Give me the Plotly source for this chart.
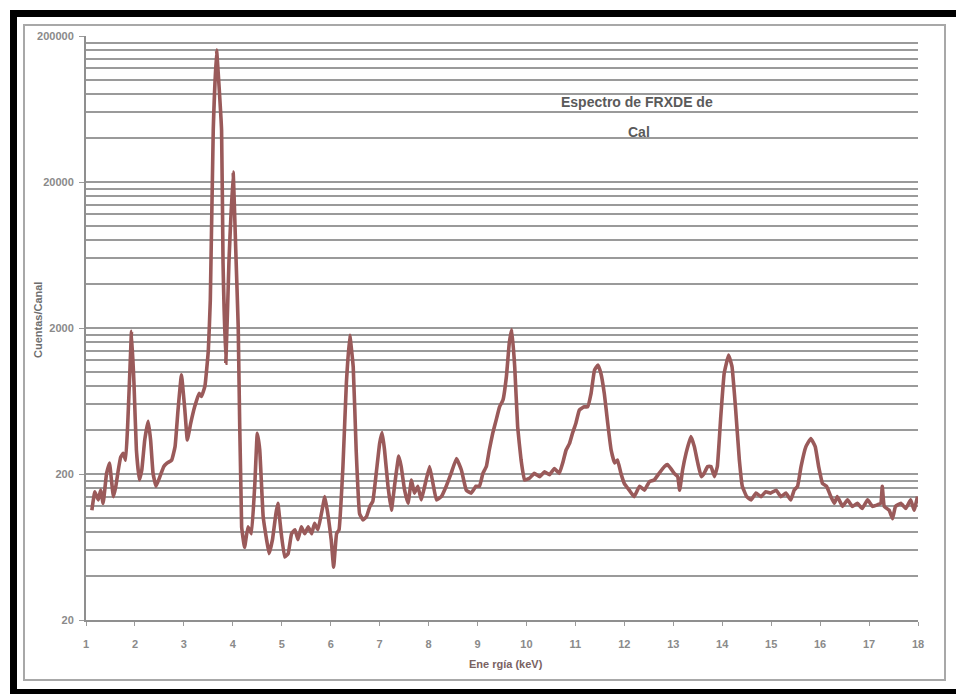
import plotly.graph_objects as go

# XRF energy-dispersive spectrum of lime (Cal): energy (keV) vs counts per channel
energia_kev = [
    1.12, 1.18, 1.25, 1.30, 1.35, 1.42, 1.48, 1.52, 1.56, 1.61, 1.66, 1.71, 1.76, 1.81,
    1.85, 1.90, 1.93, 1.98, 2.03, 2.09, 2.14, 2.20, 2.27, 2.32, 2.37, 2.43, 2.51, 2.59,
    2.66, 2.75, 2.82, 2.88, 2.95, 3.02, 3.07, 3.14, 3.22, 3.31, 3.36, 3.43, 3.50, 3.54,
    3.60, 3.667, 3.77, 3.80, 3.857, 3.92, 4.006, 4.06, 4.11,
    4.18, 4.24, 4.31, 4.38, 4.45, 4.50, 4.55, 4.62, 4.69, 4.74, 4.81, 4.88, 4.92, 4.99,
    5.06, 5.13, 5.20, 5.27, 5.33, 5.40, 5.47, 5.54, 5.61, 5.67, 5.74, 5.81, 5.88, 5.95,
    6.01, 6.06, 6.12, 6.17, 6.25, 6.32, 6.39, 6.46, 6.52, 6.59, 6.66, 6.73, 6.80, 6.86,
    6.93, 7.00, 7.05, 7.10, 7.17, 7.24, 7.31, 7.39, 7.44, 7.51, 7.58, 7.65, 7.71, 7.78,
    7.85, 7.92, 8.02, 8.09, 8.16, 8.26, 8.36, 8.46, 8.57, 8.67, 8.77, 8.87, 8.97,
    9.04, 9.11, 9.18, 9.24, 9.31, 9.38, 9.45, 9.52, 9.59, 9.65, 9.70, 9.76, 9.82, 9.89,
    9.96, 10.06, 10.16, 10.27, 10.37, 10.47, 10.57, 10.67, 10.74, 10.81, 10.88, 10.94,
    11.01, 11.08, 11.18, 11.25, 11.32, 11.39, 11.46, 11.52, 11.59, 11.66, 11.73, 11.80,
    11.86, 11.93, 12.00, 12.10, 12.20, 12.31, 12.41, 12.51, 12.61, 12.71, 12.82, 12.88,
    12.95, 13.02, 13.09, 13.13, 13.19, 13.26, 13.36, 13.43, 13.50, 13.57, 13.63, 13.70,
    13.77, 13.84, 13.90, 13.97, 14.04, 14.13, 14.20, 14.27, 14.35, 14.41, 14.50, 14.59,
    14.69, 14.79, 14.89, 14.99, 15.10, 15.20, 15.30, 15.40, 15.47, 15.54, 15.61, 15.71,
    15.81, 15.90, 15.97, 16.05, 16.13, 16.22, 16.29, 16.35, 16.46, 16.56, 16.66, 16.76,
    16.86, 16.97, 17.07, 17.17, 17.24, 17.27, 17.31, 17.41, 17.48, 17.54, 17.65, 17.75,
    17.85, 17.92, 17.99,
]

cuentas_canal = [
    113, 151, 133, 155, 126, 202, 238, 182, 140, 165, 213, 262, 277, 249,
    421, 1085, 1900, 838, 292, 182, 213, 342, 460, 342, 202, 165, 192, 225,
    238, 249, 308, 548, 955, 548, 342, 446, 577, 713, 680, 800, 1412, 3105,
    45400, 160000, 45400, 5570, 1150, 5570, 23400, 6840, 2040,
    87, 63, 87, 78, 172, 380, 292, 102, 71, 57, 71, 107, 126, 78,
    54, 57, 78, 83, 71, 87, 78, 87, 78, 92, 83, 107, 140, 102,
    71, 46, 78, 83, 225, 838, 1780, 1085, 292, 107, 97, 102, 120, 130,
    202, 324, 384, 292, 165, 113, 172, 265, 225, 155, 126, 182, 148, 165,
    133, 165, 225, 172, 133, 140, 165, 202, 255, 213, 155, 148, 165,
    165, 202, 225, 292, 380, 468, 577, 642, 930, 1590, 1950, 1085, 421, 249,
    182, 187, 202, 192, 207, 198, 218, 202, 238, 292, 324, 380,
    446, 548, 577, 577, 713, 1030, 1116, 980, 713, 446, 292, 238,
    249, 202, 172, 155, 140, 165, 155, 177, 182, 202, 225, 232,
    218, 202, 192, 155, 213, 277, 361, 308, 238, 192, 202, 225,
    225, 192, 225, 494, 980, 1305, 1085, 577, 249, 165, 140, 133,
    148, 140, 151, 148, 155, 140, 148, 133, 155, 165, 225, 308,
    350, 308, 225, 172, 165, 140, 126, 140, 120, 133, 120, 126,
    116, 133, 120, 123, 126, 165, 120, 113, 99, 120, 126, 116,
    133, 113, 140,
]

y_ticks = [20, 200, 2000, 20000, 200000]
y_tick_text = ["20", "200", "2000", "20000", "200000"]
x_ticks = list(range(1, 19))

# intermediate log gridlines: 2..9 x each decade start (20, 200, ...)
minor_grid = [d * m for d in (20, 200, 2000, 20000) for m in range(2, 10)]

line_color = "#9a5a5a"
grid_color = "#9a9a9a"
tick_font = dict(family="Liberation Sans", size=11, color="#8a8a8a", weight="bold")

fig = go.Figure()
fig.add_trace(go.Scatter(
    x=energia_kev, y=cuentas_canal, mode="lines",
    line=dict(color=line_color, width=3.6, shape="spline", smoothing=0.3),
    showlegend=False, hoverinfo="x+y",
))

fig.update_xaxes(
    range=[1, 18], tickvals=x_ticks, ticktext=[str(v) for v in x_ticks],
    showgrid=False, zeroline=False,
    showline=True, linecolor="#8f8f8f", linewidth=2,
    ticks="outside", ticklen=4, tickwidth=1, tickcolor="#9a9a9a",
    tickfont=tick_font, ticklabelstandoff=9,
)
fig.update_yaxes(
    type="log", range=[1.30103, 5.30103],
    tickvals=y_ticks, ticktext=y_tick_text,
    showgrid=True, gridcolor=grid_color, gridwidth=2,
    minor=dict(tickvals=minor_grid, showgrid=True, gridcolor=grid_color, gridwidth=2, ticks=""),
    zeroline=False, showline=True, linecolor="#8f8f8f", linewidth=2,
    ticks="outside", ticklen=5, tickwidth=1, tickcolor="#9a9a9a",
    tickfont=tick_font, ticklabelstandoff=3,
)

# Frame: pixel geometry converted to paper coordinates of the plotting area
L, R, T, B = 86, 918, 36, 620
W, H = R - L, B - T


def px(x):
    return (x - L) / W


def py(y):
    return (B - y) / H


shapes = [
    # black picture frame (top, left, bottom)
    dict(type="rect", xref="paper", yref="paper", x0=px(10), x1=px(956), y0=py(10), y1=py(17),
         fillcolor="black", line=dict(width=0), layer="above"),
    dict(type="rect", xref="paper", yref="paper", x0=px(10), x1=px(17), y0=py(10), y1=py(694),
         fillcolor="black", line=dict(width=0), layer="above"),
    dict(type="rect", xref="paper", yref="paper", x0=px(10), x1=px(956), y0=py(689), y1=py(694),
         fillcolor="black", line=dict(width=0), layer="above"),
    # chart-area border
    dict(type="rect", xref="paper", yref="paper", x0=px(24), x1=px(945), y0=py(25), y1=py(680),
         fillcolor="rgba(0,0,0,0)", line=dict(color="#a8a8a8", width=2), layer="below"),
]

title_font = dict(family="Liberation Sans", size=14, color="#5a5a5a", weight="bold")
annotations = [
    dict(text="Espectro de FRXDE de", x=px(637), y=py(102), font=title_font),
    dict(text="Cal", x=px(639), y=py(132), font=title_font),
    dict(text="Cuentas/Canal", x=px(38), y=py(320), textangle=-90,
         font=dict(family="Liberation Sans", size=11, color="#6e6e6e", weight="bold")),
    dict(text="Ene rgía (keV)", x=px(506), y=py(664),
         font=dict(family="Liberation Sans", size=11, color="#7a6262", weight="bold")),
]
for a in annotations:
    a.update(xref="paper", yref="paper", xanchor="center", yanchor="middle", showarrow=False)

fig.update_layout(
    width=956, height=694,
    margin=dict(l=L, r=956 - R, t=T, b=694 - B),
    paper_bgcolor="white", plot_bgcolor="white",
    shapes=shapes, annotations=annotations,
)

fig.write_html("out.html")
